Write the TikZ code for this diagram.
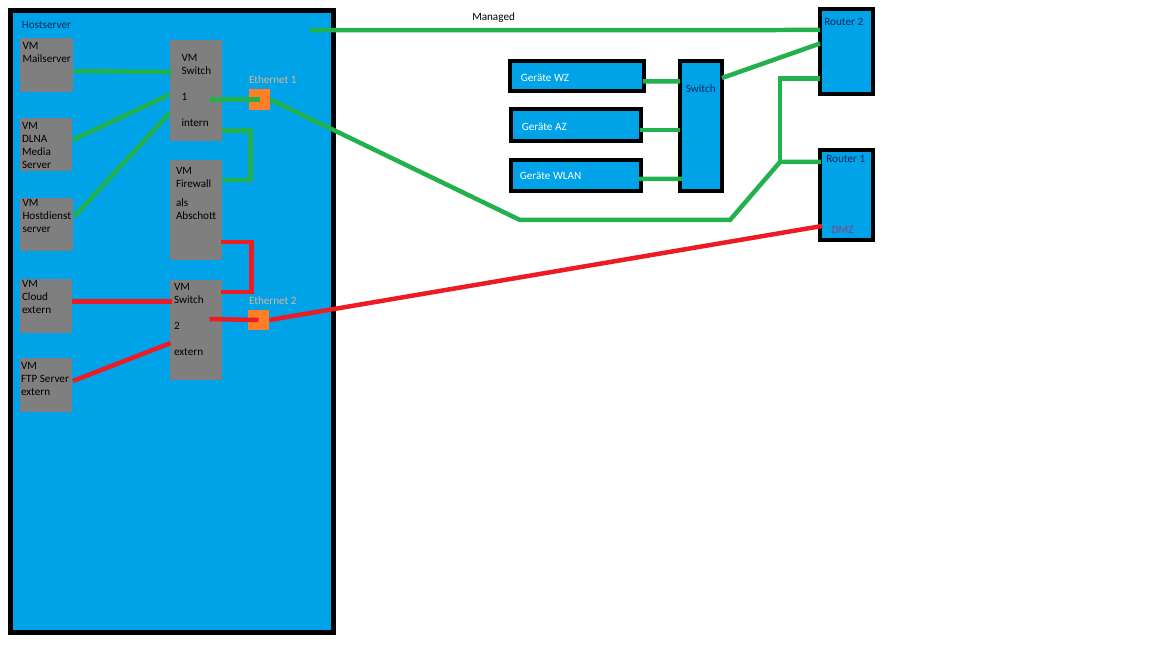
\documentclass[tikz,border=0pt]{standalone}
\usepackage{fontspec}
\setmainfont{Carlito}
\usepackage{tikz}
\usetikzlibrary{calc}
\usetikzlibrary{positioning}
\usepackage{xcolor}
\definecolor{paintblue}{RGB}{0,162,232}
\definecolor{vmgray}{RGB}{127,127,127}
\definecolor{ethorange}{RGB}{255,127,39}
\definecolor{paintgreen}{RGB}{34,177,76}
\definecolor{paintred}{RGB}{237,28,36}
\definecolor{tblue}{RGB}{10,40,95}
\definecolor{ethtext}{RGB}{215,180,150}
\definecolor{dmztext}{RGB}{150,60,125}
\newcommand{\fs}{\fontsize{6.35pt}{7.4pt}\selectfont}

\begin{document}
\begin{tikzpicture}[
	x=0.02cm, y=-0.02cm,
	host/.style = {rectangle, draw=black, fill=paintblue, line width=0.1cm, inner sep=0pt},
	vm/.style = {rectangle, fill=vmgray, inner sep=0pt, minimum width=1.06cm, minimum height=1.08cm},
	vs/.style = {rectangle, fill=vmgray, inner sep=0pt, minimum width=1.04cm, minimum height=2.02cm},
	dev/.style = {rectangle, draw=black, fill=paintblue, line width=0.08cm, inner sep=0pt},
	eth/.style = {rectangle, fill=ethorange, inner sep=0pt, minimum size=0.42cm},
	txt/.style = {anchor=north west, inner sep=0pt, align=left, font=\fs},
	g/.style = {draw=paintgreen, line width=0.09cm},
	r/.style = {draw=paintred, line width=0.09cm}
	]
	\useasboundingbox (0,0) rectangle (1152,648);
	
	% === === Nodes === ===
	\node[host, minimum width=6.46cm, minimum height=12.44cm]	(host)	at	(172, 321.5)
		{};
	\node[txt, text=tblue]	(hosttitle)	at	([xshift=0.27cm, yshift=-0.26cm]host.north west)	{Hostserver};
	
	\node[vm, label={[txt, xshift=0.05cm, yshift=-0.08cm]north west:VM\\Mailserver}]	(mail)	at	(46.5, 65)	{};
	\node[vm, label={[txt, xshift=0.05cm, yshift=-0.1cm]north west:VM\\DLNA\\Media\\Server}]	(dlna)	at	(46, 144.5)	{};
	\node[vm, label={[txt, xshift=0.05cm, yshift=-0.04cm]north west:VM\\Hostdienst\\server}]	(hostd)	at	(46.5, 224.5)	{};
	\node[vm, label={[txt, xshift=0.05cm, yshift=-0.03cm]north west:VM\\Cloud\\extern}]	(cloud)	at	(46, 306)	{};
	\node[vm, label={[txt, xshift=0.03cm, yshift=-0.08cm]north west:VM\\FTP Server\\extern}]	(ftp)	at	(46, 385)	{};
	
	\node[vs, label={[txt, xshift=0.23cm, yshift=-0.28cm]north west:VM\\Switch\\[0.26cm]1\\[0.26cm]intern}]	(sw1)	at	(196, 90.5)	{};
	\node[vs, label={[txt, xshift=0.12cm, yshift=-0.15cm]north west:VM\\Firewall\\[0.13cm]als\\Abschott}]	(fw)	at	(196, 210)	{};
	\node[vs, label={[txt, xshift=0.08cm, yshift=-0.08cm]north west:VM\\Switch\\[0.26cm]2\\[0.26cm]extern}]	(sw2)	at	(196, 330)	{};
	
	\node[eth, label={[txt, anchor=south west, text=ethtext, yshift=0.1cm]north west:Ethernet 1}]	(eth1)	at	(259.5, 99.5)	{};
	\node[eth, label={[txt, anchor=south west, text=ethtext, xshift=0.02cm, yshift=0.09cm]north west:Ethernet 2}]	(eth2)	at	(258.5, 320)	{};
	
	\node[dev, minimum width=2.68cm, minimum height=0.6cm, label={[txt, anchor=west, text=white, xshift=0.25cm, yshift=-0.03cm]west:Geräte WZ}]	(gwz)	at	(577, 76)	{};
	\node[dev, minimum width=2.6cm, minimum height=0.64cm, label={[txt, anchor=west, text=white, xshift=0.25cm, yshift=-0.03cm]west:Geräte AZ}]	(gaz)	at	(576, 125)	{};
	\node[dev, minimum width=2.6cm, minimum height=0.62cm, label={[txt, anchor=west, text=white, xshift=0.21cm, yshift=-0.01cm]west:Geräte WLAN}]	(gwlan)	at	(576, 175.5)	{};
	\node[dev, minimum width=0.84cm, minimum height=2.6cm, label={[txt, text=tblue, xshift=0.15cm, yshift=-0.5cm]north west:Switch}]	(sw)	at	(701, 126)	{};
	
	\node[dev, minimum width=1.06cm, minimum height=1.7cm, label={[txt, text=tblue, xshift=0.12cm, yshift=-0.21cm]north west:Router 2}]	(r2)	at	(846.5, 51.5)	{};
	\node[dev, minimum width=1.06cm, minimum height=1.8cm,
		label={[txt, text=tblue, xshift=0.16cm, yshift=-0.14cm]north west:Router 1},
		label={[txt, text=dmztext, xshift=0.27cm, yshift=-1.56cm]north west:DMZ}]	(r1)	at	(846.5, 195)	{};
	
	\coordinate	(bend1)	at	(520, 220);
	\coordinate	(bend2)	at	(730, 220);
	\coordinate	(junc)	at	(780, 162);
	
	% === === Lines === ===
	\draw[g]	($(mail.east)+(0,6)$)	--	($(sw1.west)+(2,-18.5)$);
	\draw[g]	($(dlna.east)+(0,-4.5)$)	--	($(sw1.west)+(0,4)$);
	\draw[g]	($(hostd.east)+(1,-8)$)	--	($(sw1.west)+(0,22.5)$);
	\draw[g]	($(sw1.east)+(-12,9)$)	--	(eth1.center);
	\draw[g]	($(sw1.east)+(0,40)$)	--	++(28,0)	|-	($(fw.east)+(0,-30)$);
	\draw[g]	(eth1.east)	--	(bend1)	--	(bend2)	--	(junc)	--	($(r1.west)+(3,-33)$);
	\draw[g]	(junc)	|-	($(r2.west)+(2,27)$);
	\draw[g]	($(host.north east)+(-26,22)$)	--	node[pos=0.36, above=0.11cm, font=\fs, inner sep=0pt]	{Managed}	($(r2.west)+(2,-21.5)$);
	\draw[g]	($(sw.east)+(-2,-48)$)	--	($(r2.west)+(2,-8)$);
	\draw[g]	($(gwz.east)+(-3,5.5)$)	--	($(sw.west)+(2,-44.5)$);
	\draw[g]	($(gaz.east)+(-3,5)$)	--	($(sw.west)+(2,4)$);
	\draw[g]	($(gwlan.east)+(-4,3.5)$)	--	($(sw.west)+(4,53)$);
	
	\draw[r]	($(fw.east)+(-1,32)$)	--	++(30,0)	|-	($(sw2.east)+(-1,-38)$);
	\draw[r]	($(cloud.east)+(-1,-4.5)$)	--	($(sw2.west)+(2,-28.5)$);
	\draw[r]	($(ftp.east)+(0,-4)$)	--	($(sw2.west)+(1,13)$);
	\draw[r]	($(sw2.east)+(-13,-11)$)	--	(eth2.center);
	\draw[r]	(eth2.east)	--	($(r1.west)+(4,31)$);
	
\end{tikzpicture}
\end{document}
